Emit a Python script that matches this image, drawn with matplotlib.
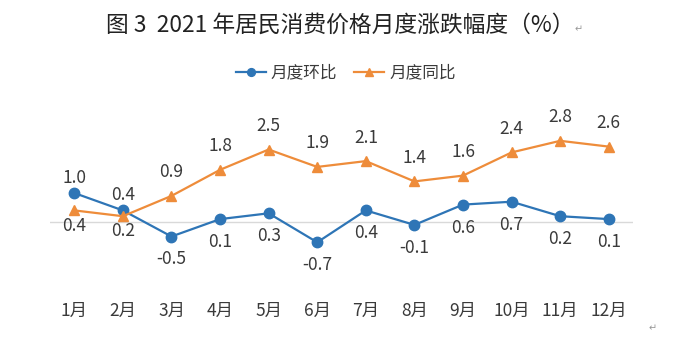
import matplotlib
matplotlib.use("Agg")
import matplotlib.pyplot as plt

plt.rcParams["font.family"] = ["Noto Sans CJK SC", "DejaVu Sans"]

months = ["1月", "2月", "3月", "4月", "5月", "6月",
          "7月", "8月", "9月", "10月", "11月", "12月"]
mom = [1.0, 0.4, -0.5, 0.1, 0.3, -0.7, 0.4, -0.1, 0.6, 0.7, 0.2, 0.1]
yoy = [0.4, 0.2, 0.9, 1.8, 2.5, 1.9, 2.1, 1.4, 1.6, 2.4, 2.8, 2.6]
# label above (+1) or below (-1) the point
mom_side = [1, 1, -1, -1, -1, -1, -1, -1, -1, -1, -1, -1]
yoy_side = [-1, -1, 1, 1, 1, 1, 1, 1, 1, 1, 1, 1]

blue = "#2E75B6"
orange = "#EE8C3A"
txt = "#3A3A3A"

fig = plt.figure(figsize=(7, 3.44), dpi=100)
ax = fig.add_axes([0.0714, 0.1355, 0.833, 0.472])

x = list(range(len(months)))
ax.axhline(0, color="#D9D9D9", lw=1, zorder=1)
ax.plot(x, mom, color=blue, lw=1.6, marker="o", ms=7.5, label="月度环比", zorder=3)
ax.plot(x, yoy, color=orange, lw=1.6, marker="^", ms=7.5, label="月度同比", zorder=3)

# (values, sides, offset above, offset below) in points
label_sets = [(mom, mom_side, 11, -16.5), (yoy, yoy_side, 17, -11)]
for vals, sides, up, down in label_sets:
    for xi, v, s in zip(x, vals, sides):
        ax.annotate(f"{v:.1f}", (xi, v), xytext=(0, up if s > 0 else down),
                    textcoords="offset points", ha="center", va="center",
                    fontsize=12.5, color=txt)

ax.set_xlim(-0.5, len(months) - 0.5)
ax.set_ylim(-2.6, 3.0)
ax.set_xticks(x)
ax.set_xticklabels(months, fontsize=12.5, color=txt)
ax.tick_params(axis="x", length=0, pad=3)
ax.set_yticks([])
for sp in ax.spines.values():
    sp.set_visible(False)

fig.text(0.486, 0.927, "图 3  2021 年居民消费价格月度涨跌幅度（%）",
         ha="center", va="center", fontsize=16.4, color="#222222")
fig.text(0.827, 0.915, "↵", ha="center", va="center", fontsize=7, color="#999999")
fig.text(0.932, 0.046, "↵", ha="center", va="center", fontsize=7, color="#999999")

fig.legend(loc="center", bbox_to_anchor=(0.494, 0.788), ncol=2, frameon=False,
           fontsize=12, handlelength=1.8, columnspacing=1.0, handletextpad=0.3,
           markerscale=0.75, labelcolor=txt)

fig.savefig("out.png", dpi=100)
